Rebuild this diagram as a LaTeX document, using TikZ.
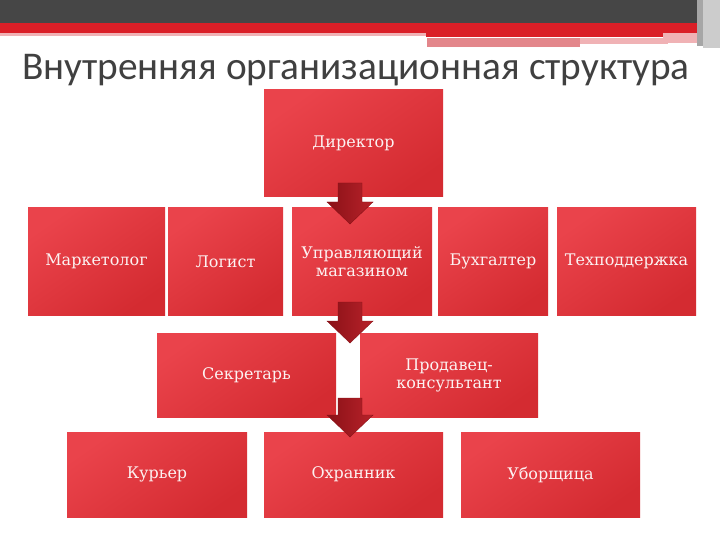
\documentclass[tikz,border=0pt]{standalone}
\usepackage{fontspec}
\setmainfont{DejaVu Serif}
\newfontfamily\titlefont{Carlito}
\usetikzlibrary{calc}
\definecolor{hdrdark}{HTML}{464646}
\definecolor{hdrred}{HTML}{DA1F27}
\definecolor{hdrpink}{HTML}{E3868B}
\definecolor{hdrlpink}{HTML}{F0B2B5}
\definecolor{boxlight}{HTML}{EA434B}
\definecolor{boxdark}{HTML}{D42B31}
\definecolor{arrlight}{HTML}{B8222A}
\definecolor{arrdark}{HTML}{8A1117}
\definecolor{titlegray}{HTML}{404040}
\definecolor{txtwhite}{HTML}{FCF2F2}
\tikzset{
  orgbox/.style={rectangle, inner sep=2pt, align=center, text=txtwhite,
    top color=boxlight, bottom color=boxdark, shading angle=35,
    font=\fontsize{16}{18}\selectfont},
  rowA/.style={orgbox, minimum height=107pt},
  rowB/.style={orgbox, minimum height=84pt},
  rowC/.style={orgbox, minimum height=85pt},
  blockarrow/.style={left color=arrdark, right color=arrlight, draw=arrdark, line width=0.4pt}
}
\newcommand{\downarrowblock}[2]{%
  \shade[blockarrow] ($(#1)+(-12,0)$) -- ($(#2)+(-12,-22)$) -- ($(#2)+(-23,-22)$) -- (#2)
    -- ($(#2)+(23,-22)$) -- ($(#2)+(12,-22)$) -- ($(#1)+(12,0)$) -- cycle;}
\begin{document}
\begin{tikzpicture}[x=1pt,y=-1pt]
\useasboundingbox (0,0) rectangle (720,540);
\fill[white] (0,0) rectangle (720,540);
% header
\fill[hdrdark] (0,0) rectangle (700,23);
\fill[hdrred] (0,23) rectangle (700,33);
\fill[hdrlpink] (0,33) rectangle (426,36);
\fill[hdrred] (426,33) rectangle (700,37);
\fill[hdrpink] (427,38) rectangle (580,47);
\fill[hdrlpink] (580,38) rectangle (668,44);
\fill[hdrlpink] (663,33) rectangle (700,43);
\fill[gray!70] (697,0) rectangle (703,46);
\fill[gray!40] (703,0) rectangle (720,48);
% title
\node[anchor=base west, text=titlegray, inner sep=0pt, font=\titlefont\fontsize{39.3}{42}\selectfont] (title) at (22,80) {Внутренняя организационная структура};
% boxes
\node[rowA, minimum width=179pt] (dir) at (353.5,143.5) {Директор};
\node[rowA, minimum width=137pt] (mark) at (96.5,261.5) {Маркетолог};
\node[rowA, minimum width=115pt] (log) at (225.5,261.5) {Логист};
\node[rowA, minimum width=140pt] (mgr) at (362,261.5) {Управляющий\\магазином};
\node[rowA, minimum width=110pt] (buh) at (493,261.5) {Бухгалтер};
\node[rowA, minimum width=139pt] (tech) at (626.5,261.5) {Техподдержка};
\node[rowB, minimum width=179pt] (sec) at (246.5,375) {Секретарь};
\node[rowB, minimum width=178pt] (prod) at (449,375) {Продавец-\\консультант};
\node[rowC, minimum width=180pt] (kur) at (157,474.5) {Курьер};
\node[rowC, minimum width=179pt] (okh) at (353.5,474.5) {Охранник};
\node[rowC, minimum width=179pt] (ubo) at (550.5,474.5) {Уборщица};
% arrows
\coordinate (a1s) at (350,183);
\coordinate (a1t) at (350,224);
\coordinate (a2s) at (350,302);
\coordinate (a2t) at (350,343);
\coordinate (a3s) at (350,398);
\coordinate (a3t) at (350,437);
\downarrowblock{a1s}{a1t}
\downarrowblock{a2s}{a2t}
\downarrowblock{a3s}{a3t}
\end{tikzpicture}
\end{document}
